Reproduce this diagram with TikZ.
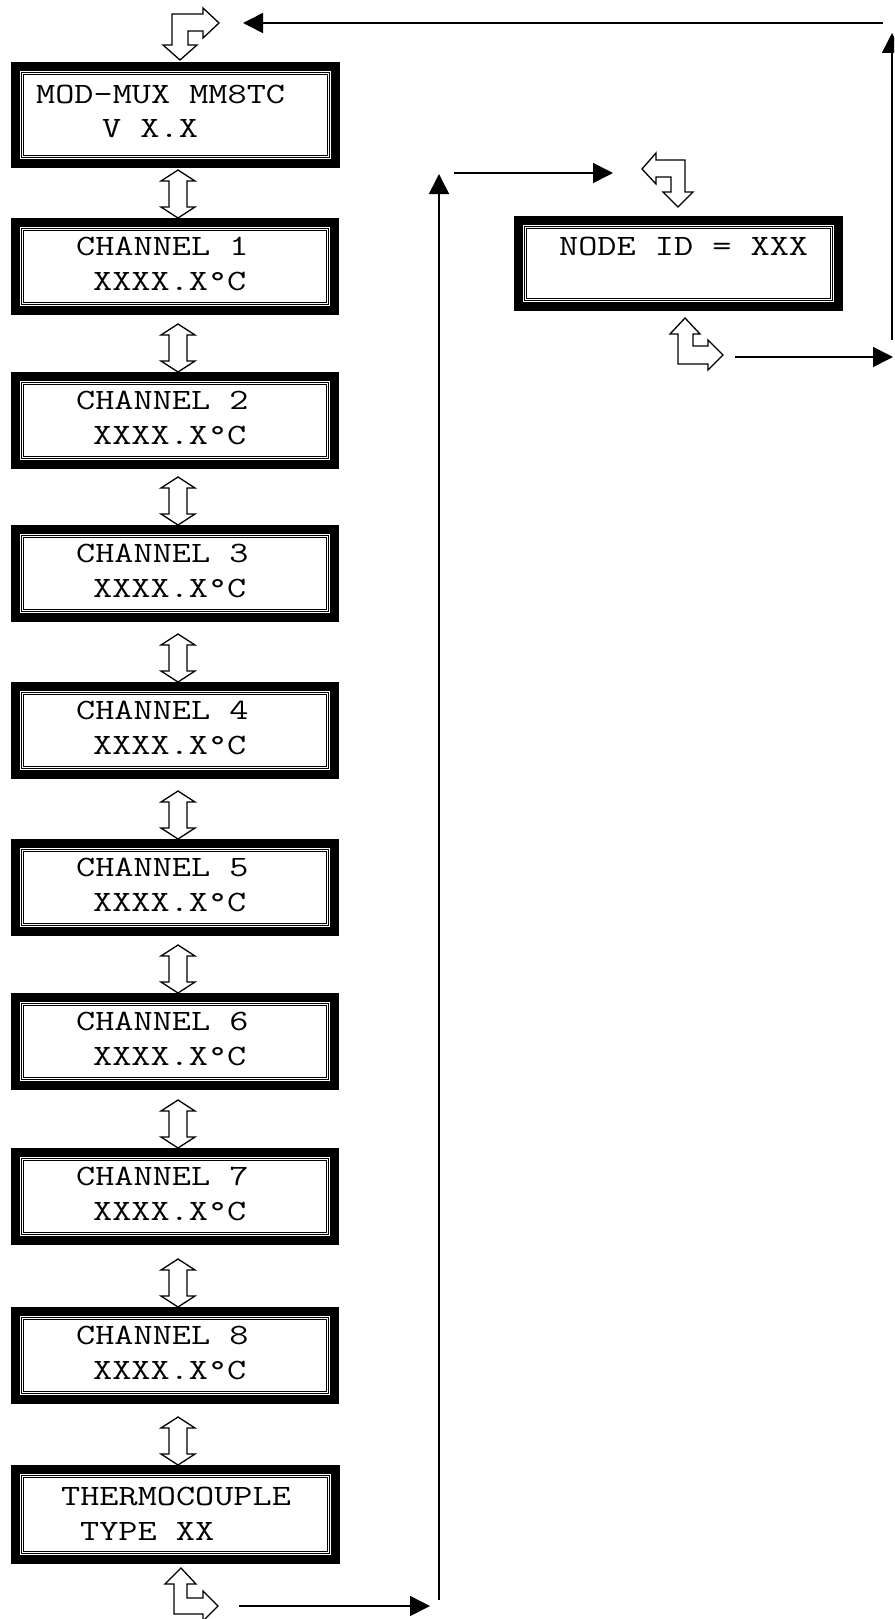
\documentclass[tikz,border=0pt]{standalone}
\usepackage{fontspec}
\usepackage{graphicx}
\usetikzlibrary{arrows.meta,fit,calc}
\newcommand\lcdtext[1]{\scalebox{1.26}[1]{\ttfamily\fontsize{29.5pt}{34pt}\selectfont #1}}
\tikzset{
  frame/.style={line width=9pt},
  thinframe/.style={line width=1pt},
  txt/.style={anchor=base west, inner sep=0pt},
  icon/.style={draw, line width=1.3pt, fill=white, line join=miter},
  conn/.style={line width=1.6pt, -{Triangle[length=20pt,width=20pt]}},
}
% name, left, top, right, bottom
\newcommand\lcdbox[5]{%
  \coordinate (#1-nw) at (#2,#3);
  \coordinate (#1-se) at (#4,#5);
  \node[fit=(#1-nw)(#1-se), inner sep=0pt] (#1) {};
  \draw[frame] ($(#1-nw)+(4.5,4.5)$) rectangle ($(#1-se)+(-4.5,-4.5)$);
  \draw[thinframe] ($(#1-nw)+(10.5,10.5)$) rectangle ($(#1-se)+(-10.5,-10.5)$);
  \draw[thinframe] ($(#1-nw)+(12.5,12.5)$) rectangle ($(#1-se)+(-12.5,-12.5)$);
}
% double vertical hollow arrow: name, ytop, ybottom
\newcommand\updown[3]{%
  \draw[icon] (178,#2) coordinate (#1-t) -- (161,{#2+11}) -- (169,{#2+11}) -- (169,{#3-11})
    -- (161,{#3-11}) -- (178,#3) coordinate (#1-b) -- (195,{#3-11}) -- (187,{#3-11})
    -- (187,{#2+11}) -- (195,{#2+11}) -- cycle;
}
% channel box: name, top, number
\newcommand\chbox[3]{%
  \lcdbox{#1}{11}{#2}{339}{{#2+97}}
  \node[txt] (#1-l1) at (76,{#2+37}) {\lcdtext{CHANNEL #3}};
  \node[txt] (#1-l2) at (93,{#2+72}) {\lcdtext{XXXX.X°C}};
}
\begin{document}
\begin{tikzpicture}[x=1pt,y=-1pt]
\useasboundingbox (0,0) rectangle (894,1619);
\clip (0,0) rectangle (894,1619);

% header box
\lcdbox{hdr}{11}{62}{340}{168}
\node[txt] (hdr-l1) at (36,103) {\lcdtext{MOD-MUX MM8TC}};
\node[txt] (hdr-l2) at (102,137) {\lcdtext{V X.X}};

\chbox{c1}{218}{1}
\chbox{c2}{372}{2}
\chbox{c3}{525}{3}
\chbox{c4}{682}{4}
\chbox{c5}{839}{5}
\chbox{c6}{993}{6}
\chbox{c7}{1148}{7}
\chbox{c8}{1307}{8}

% thermocouple box
\lcdbox{tc}{11}{1465}{340}{1564}
\node[txt] (tc-l1) at (61,1505) {\lcdtext{THERMOCOUPLE}};
\node[txt] (tc-l2) at (80,1540) {\lcdtext{TYPE XX}};

% node id box
\lcdbox{nid}{514}{216}{843}{311}
\node[txt] (nid-l1) at (559,255) {\lcdtext{NODE ID = XXX}};

% double arrows between boxes
\updown{d1}{170}{218}
\updown{d2}{324}{372}
\updown{d3}{477}{525}
\updown{d4}{634}{682}
\updown{d5}{791}{839}
\updown{d6}{945}{993}
\updown{d7}{1100}{1148}
\updown{d8}{1259}{1307}
\updown{d9}{1417}{1465}

% top-left bent arrow (right / down)
\draw[icon] (172,14) -- (203,14) -- (203,8) -- (219,23) coordinate (ic1-r) -- (203,38) -- (203,31)
  -- (188,31) -- (188,45) -- (197,45) -- (180,60) -- (163,45) -- (172,45) -- cycle;

% node-id top bent arrow (left / down)
\draw[icon] (685,160) -- (656,160) -- (656,153) -- (642,169) coordinate (ic2-l) -- (656,184) -- (656,177)
  -- (671,177) -- (671,192) -- (663,192) -- (678,207) -- (693,192) -- (685,192) -- cycle;

% node-id bottom bent arrow (up / right)
\draw[icon] (685,318) -- (700,334) -- (693,334) -- (693,346) -- (708,346) -- (708,340)
  -- (723,355) coordinate (ic3-r) -- (708,370) -- (708,364) -- (678,364) -- (678,334) -- (670,334) -- cycle;

% bottom bent arrow (up / right)
\draw[icon] (181,1568) -- (196,1584) -- (187,1584) -- (187,1598) -- (203,1598) -- (203,1591)
  -- (218,1606) coordinate (ic4-r) -- (203,1621) -- (203,1614) -- (174,1614) -- (174,1584) -- (165,1584) -- cycle;

% connectors
\coordinate (p1) at (239,1606);
\coordinate (p2) at (430,1606);
\coordinate (p3) at (439,1600);
\coordinate (p4) at (439,174);
\coordinate (p5) at (454,173);
\coordinate (p6) at (613,173);
\coordinate (p7) at (735,357);
\coordinate (p8) at (893,357);
\coordinate (p9) at (892,340);
\coordinate (p10) at (892,33);
\coordinate (p11) at (883,23);
\coordinate (p12) at (243,23);

\draw[conn] (p1) -- (p2);
\draw[conn] (p3) -- (p4);
\draw[conn] (p5) -- (p6);
\draw[conn] (p7) -- (p8);
\draw[conn] (p9) -- (p10);
\draw[conn] (p11) -- (p12);
\end{tikzpicture}
\end{document}
